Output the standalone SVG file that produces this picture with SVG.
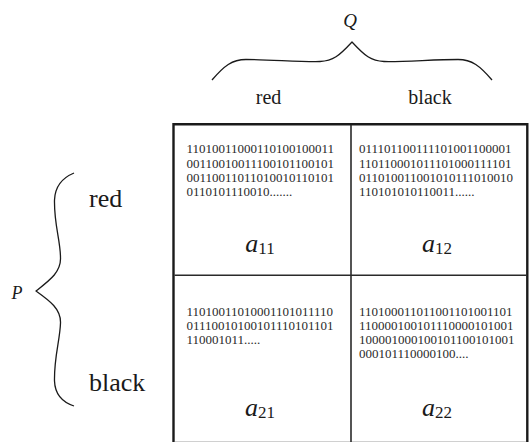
<svg xmlns="http://www.w3.org/2000/svg" width="529" height="442" viewBox="0 0 529 442">
  <style>
    text { font-family: 'Liberation Serif', Tinos, 'Times New Roman', Times, 'DejaVu Serif', serif; }
    .serif { fill: #1a1a1a; }
    .bits { font-size: 13px; fill: #2a2a2a; }
    .label { font-size: 20px; }
    .side { font-size: 26px; }
    .var { font-style: italic; }
    .sym { fill: #1a1a1a; text-anchor: middle; }
    .brace { fill: none; stroke: #1a1a1a; stroke-width: 1.3; stroke-linejoin: round; }
    .frame { fill: none; stroke: #1a1a1a; stroke-width: 2.4; }
    .divider { stroke: #2a2a2a; stroke-width: 1.6; }
  </style>

  <!-- column header: Q with its brace -->
  <g id="col-header" font-family="Liberation Serif, serif">
    <text class="serif var" x="350" y="27" font-size="19" text-anchor="middle">Q</text>
    <path class="brace" d="M212,80 C224,66 232,59.5 246,59.5 C270,59.5 300,62 320,61.5 C333,61 339,56 352,42 C365,56 371,61 384,61.5 C404,62 434,59.5 458,59.5 C472,59.5 480,66 492,80"/>
    <text class="serif label" x="268.5" y="104" text-anchor="middle">red</text>
    <text class="serif label" x="430" y="104" text-anchor="middle">black</text>
  </g>

  <!-- row header: P with its brace -->
  <g id="row-header" font-family="Liberation Serif, serif">
    <text class="serif var" x="17" y="299" font-size="18" text-anchor="middle">P</text>
    <path class="brace" d="M74,173 C62,178 55,186 54.5,200 C54,225 60.5,240 60.5,258 C61,272 50,280 36,291 C50,301 61,309 60.5,323 C60,340 54,357 54.5,381 C55,395 62,402 74,406"/>
    <text class="serif side" x="89" y="207.3">red</text>
    <text class="serif side" x="89" y="390.7">black</text>
  </g>

  <!-- table frame and dividers -->
  <g id="grid">
    <path class="frame" d="M173.5,443 V124.3 H527.3 V443"/>
    <line x1="175" y1="441.5" x2="526" y2="441.5" stroke="#d0d0d0" stroke-width="1"/>
    <line class="divider" x1="351" y1="125" x2="351" y2="442"/>
    <line class="divider" x1="174.5" y1="275.3" x2="526.5" y2="275.3"/>
  </g>

  <g id="cell-a11" font-family="Liberation Serif, serif">
    <text class="bits" x="186.5" y="153.4">11010011000110100100011</text>
    <text class="bits" x="186.5" y="167.6">00110010011100101100101</text>
    <text class="bits" x="186.5" y="181.8">00110011011010010110101</text>
    <text class="bits" x="186.5" y="196">0110101110010.......</text>
    <text class="sym" x="260" y="251.5"><tspan font-size="26" font-style="italic">a</tspan><tspan font-size="17" dy="2">11</tspan></text>
  </g>

  <g id="cell-a12" font-family="Liberation Serif, serif">
    <text class="bits" x="359" y="153.4">011101100111101001100001</text>
    <text class="bits" x="359" y="167.6">110110001011101000111101</text>
    <text class="bits" x="359" y="181.8">011010011001010111010010</text>
    <text class="bits" x="359" y="196">110101010110011......</text>
    <text class="sym" x="437" y="251.5"><tspan font-size="26" font-style="italic">a</tspan><tspan font-size="17" dy="2">12</tspan></text>
  </g>

  <g id="cell-a21" font-family="Liberation Serif, serif">
    <text class="bits" x="186.5" y="315.8">11010011010001101011110</text>
    <text class="bits" x="186.5" y="330">01110010100101110101101</text>
    <text class="bits" x="186.5" y="344.2">110001011.....</text>
    <text class="sym" x="260" y="415.7"><tspan font-size="26" font-style="italic">a</tspan><tspan font-size="17" dy="2">21</tspan></text>
  </g>

  <g id="cell-a22" font-family="Liberation Serif, serif">
    <text class="bits" x="359" y="315.8">110100011011001101001101</text>
    <text class="bits" x="359" y="330">110000100101110000101001</text>
    <text class="bits" x="359" y="344.2">100001000100101100101001</text>
    <text class="bits" x="359" y="358.4">000101110000100....</text>
    <text class="sym" x="437" y="415.7"><tspan font-size="26" font-style="italic">a</tspan><tspan font-size="17" dy="2">22</tspan></text>
  </g>
</svg>
